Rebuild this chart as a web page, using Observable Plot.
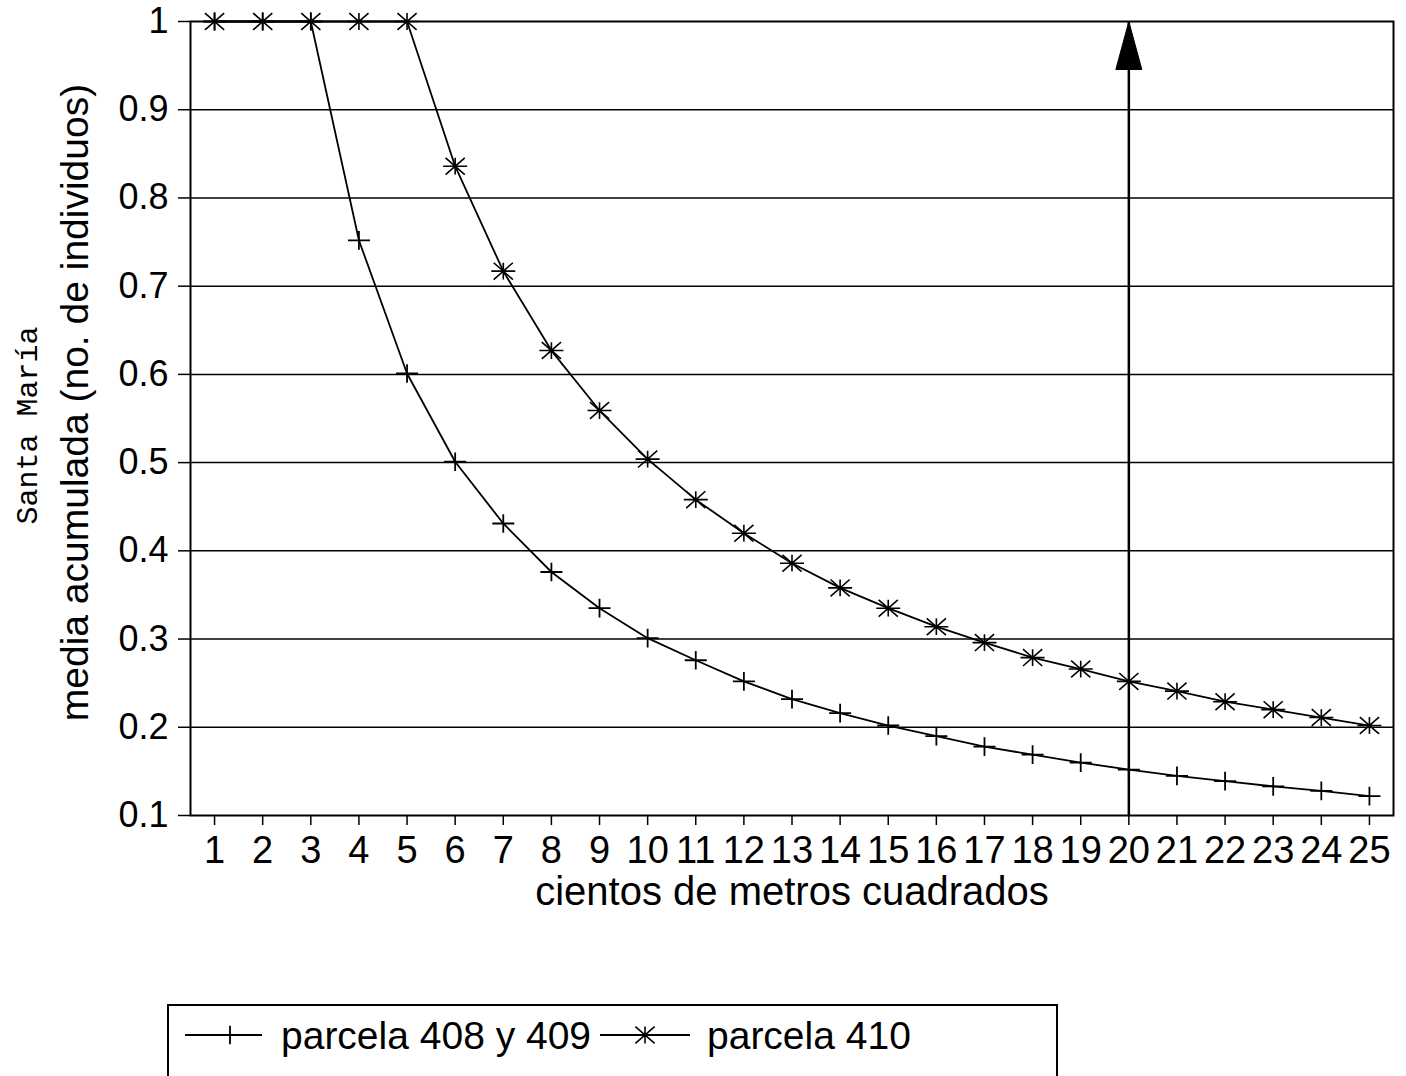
<!DOCTYPE html>
<html><head><meta charset="utf-8">
<script src="https://cdn.jsdelivr.net/npm/d3@7"></script>
<script src="https://cdn.jsdelivr.net/npm/@observablehq/plot@0.6"></script>
<style>
body{margin:0;background:#fff;font-family:"Liberation Sans",Arial,sans-serif;}
#wrap{position:relative;width:1406px;height:1076px;overflow:hidden;background:#fff;}
#legend{position:absolute;left:167px;top:1004px;width:891px;height:110px;border:2px solid #000;box-sizing:border-box;}
</style>
</head><body>
<div id="wrap"><div id="chart"></div><div id="legend"></div></div>
<script>
// ---- data ----
const cientos = [1,2,3,4,5,6,7,8,9,10,11,12,13,14,15,16,17,18,19,20,21,22,23,24,25];
const parcela408y409 = [1,1,1,0.752,0.601,0.501,0.431,0.376,0.335,0.301,0.276,0.252,0.232,0.216,0.202,0.19,0.178,0.169,0.16,0.152,0.145,0.139,0.133,0.128,0.122];
const parcela410 = [1,1,1,1,1,0.836,0.717,0.627,0.559,0.504,0.458,0.42,0.386,0.358,0.335,0.314,0.296,0.279,0.266,0.252,0.241,0.229,0.22,0.211,0.202];
const yTicks = [0.1,0.2,0.3,0.4,0.5,0.6,0.7,0.8,0.9,1];
const gridY = [0.2,0.3,0.4,0.5,0.6,0.7,0.8,0.9];
const flechaX = 20;
const seriesNames = ["parcela 408 y 409","parcela 410"];
const xLabel = "cientos de metros cuadrados";
const yLabel = "media acumulada (no. de individuos)";
const yLabel2 = "Santa María";

const d408 = cientos.map((x,i)=>({x, y: parcela408y409[i]}));
const d410 = cientos.map((x,i)=>({x, y: parcela410[i]}));

// custom marker symbols
const plusSym = {draw(ctx, size){ const r = Math.sqrt(size/Math.PI);
  ctx.moveTo(-r,0); ctx.lineTo(r,0); ctx.moveTo(0,-0.85*r); ctx.lineTo(0,0.85*r); }};
const starSym = {draw(ctx, size){ const r = Math.sqrt(size/Math.PI);
  ctx.moveTo(-r,0); ctx.lineTo(r,0);
  ctx.moveTo(-0.8*r,-0.7*r); ctx.lineTo(0.8*r,0.7*r);
  ctx.moveTo(-0.8*r,0.7*r); ctx.lineTo(0.8*r,-0.7*r);
  ctx.moveTo(0,-0.7*r); ctx.lineTo(0,0.7*r); }};
const headSym = {draw(ctx){ ctx.moveTo(0,0); ctx.lineTo(-13,48); ctx.lineTo(13,48); ctx.closePath(); }};

const FONT = "'Liberation Sans', Arial, sans-serif";
const chart = Plot.plot({
  width: 1406, height: 960,
  marginLeft: 190, marginRight: 13, marginTop: 21, marginBottom: 145,
  x: {domain: [0.5, 25.5]},
  y: {domain: [0.1, 1]},
  style: {fontFamily: FONT, background: "white", color: "black", overflow: "visible"},
  marks: [
    Plot.ruleY(gridY, {stroke: "#000", strokeWidth: 1.5}),
    Plot.axisY({ticks: yTicks, tickSize: 12, tickPadding: 10, fontSize: 36, label: null, strokeWidth: 1.5,
      tickFormat: d => d === 1 ? "1" : d.toFixed(1)}),
    Plot.axisX({ticks: cientos, tickSize: 10, tickPadding: 11, fontSize: 38, label: null, strokeWidth: 1.5,
      tickFormat: d => String(d)}),
    Plot.frame({stroke: "#000", strokeWidth: 2}),
    Plot.ruleX([flechaX], {y1: () => 0.1, y2: () => 1, stroke: "#000", strokeWidth: 2.5}),
    Plot.dot([flechaX], {x: d => d, y: () => 1, symbol: headSym, fill: "#000", stroke: "#000", strokeWidth: 1}),
    Plot.line(d408, {x: "x", y: "y", stroke: "#000", strokeWidth: 1.8}),
    Plot.line(d410, {x: "x", y: "y", stroke: "#000", strokeWidth: 1.8}),
    Plot.dot(d408, {x: "x", y: "y", symbol: plusSym, r: 11, stroke: "#000", strokeWidth: 1.8, fill: "none"}),
    Plot.dot(d410, {x: "x", y: "y", symbol: starSym, r: 12, stroke: "#000", strokeWidth: 1.6, fill: "none"}),
    Plot.text([xLabel], {text: d => d, frameAnchor: "bottom", lineAnchor: "middle", textAnchor: "middle", dy: 77, fontSize: 40, fontFamily: FONT, fill: "#000"}),
    Plot.text([yLabel], {text: d => d, frameAnchor: "left", textAnchor: "middle", lineAnchor: "middle", dx: -115, dy: -16, rotate: -90, fontSize: 39, fontFamily: FONT, fill: "#000"}),
    Plot.text([yLabel2], {text: d => d, frameAnchor: "left", textAnchor: "middle", lineAnchor: "middle", dx: -163, dy: 7, rotate: -90, fontSize: 30, fontFamily: "'Liberation Mono', 'DejaVu Sans Mono', monospace", fill: "#000"})
  ]
});
document.getElementById("chart").appendChild(chart);

// legend
const lg = d3.select("#legend").append("svg").attr("width", 887).attr("height", 106)
  .style("font-family", FONT);
const ly = 29;
function drawSym(g, sym, cx, cy, r, sw){
  g.append("path").attr("transform", `translate(${cx},${cy})`)
    .attr("d", d3.symbol(sym, r*r*Math.PI)()).attr("stroke","#000").attr("fill","none").attr("stroke-width", sw);
}
lg.append("line").attr("x1",16).attr("x2",93).attr("y1",ly).attr("y2",ly).attr("stroke","#000").attr("stroke-width",1.8);
drawSym(lg, plusSym, 61, ly, 11, 1.8);
lg.append("text").attr("x",112).attr("y",43).attr("font-size",39).text(seriesNames[0]);
lg.append("line").attr("x1",431).attr("x2",521).attr("y1",ly).attr("y2",ly).attr("stroke","#000").attr("stroke-width",1.8);
drawSym(lg, starSym, 476, ly, 12, 1.6);
lg.append("text").attr("x",538).attr("y",43).attr("font-size",39).text(seriesNames[1]);
</script>
</body></html>
